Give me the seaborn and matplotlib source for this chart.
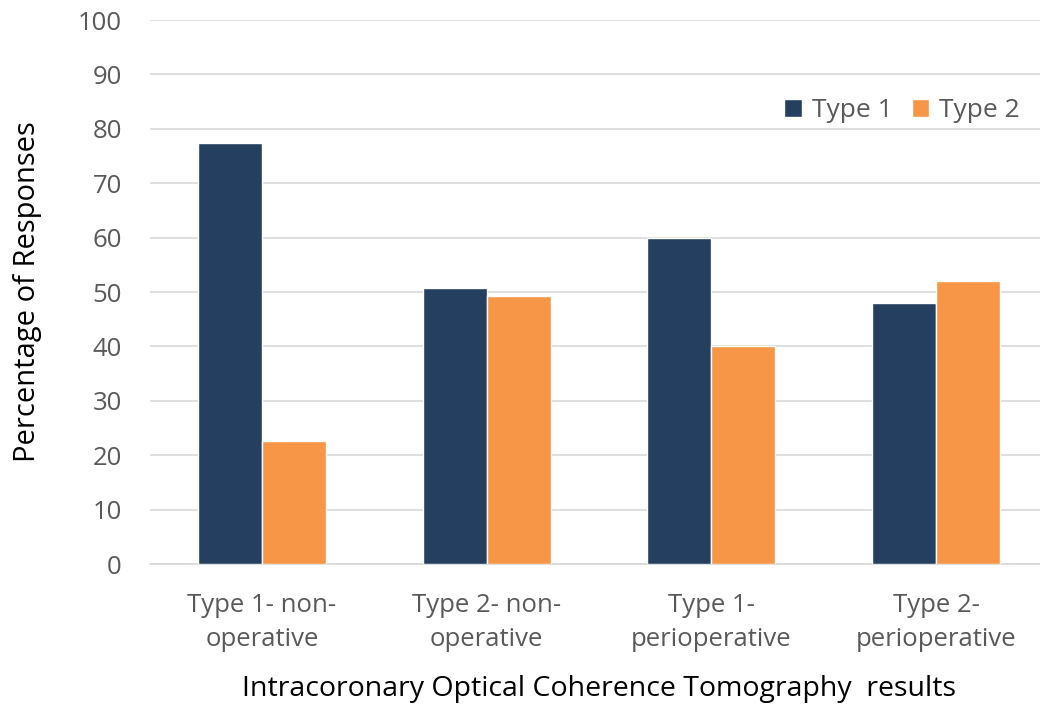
import matplotlib
matplotlib.use("Agg")
import matplotlib.pyplot as plt
import seaborn as sns
import pandas as pd

categories = ["Type 1- non-\noperative", "Type 2- non-\noperative",
              "Type 1-\nperioperative", "Type 2-\nperioperative"]
series_names = ["Type 1", "Type 2"]
type1_values = [77.3, 50.7, 60.0, 47.9]
type2_values = [22.7, 49.3, 40.0, 52.1]
y_ticks = [0, 10, 20, 30, 40, 50, 60, 70, 80, 90, 100]

df = pd.DataFrame({
    "category": categories * 2,
    "series": [series_names[0]] * 4 + [series_names[1]] * 4,
    "value": type1_values + type2_values,
})

sns.set_theme(style="white")
plt.rcParams['font.family'] = ['Open Sans', 'DejaVu Sans']

text_color = "#595959"
palette = {"Type 1": "#243F60", "Type 2": "#F79646"}

fig = plt.figure(figsize=(10.4, 7.05), dpi=100)
ax = fig.add_axes([149.7 / 1040, 1 - 564 / 705, 898.6 / 1040, 544 / 705])

sns.barplot(data=df, x="category", y="value", hue="series", palette=palette,
            width=0.57, saturation=1, ax=ax, errorbar=None, zorder=3)

ax.set_xlim(-0.5, 3.5)
ax.set_ylim(0, 100)
ax.set_yticks(y_ticks)
ax.yaxis.grid(True, color="#D9D9D9", linewidth=1.2, zorder=0)
ax.set_axisbelow(True)
for s in ["left", "right", "top"]:
    ax.spines[s].set_visible(False)
ax.spines["bottom"].set_color("#D9D9D9")
ax.spines["bottom"].set_linewidth(1.2)
ax.tick_params(axis="both", length=0, labelsize=18.5, colors=text_color)
ax.tick_params(axis="x", pad=21)
ax.tick_params(axis="y", pad=20)
for lbl in ax.get_xticklabels():
    lbl.set_linespacing(1.45)

ax.set_xlabel("Intracoronary Optical Coherence Tomography  results",
              fontsize=20.5, color="black", labelpad=17)
ax.set_ylabel("Percentage of Responses", fontsize=21, color="black", labelpad=26)

leg = ax.legend(loc="upper right", bbox_to_anchor=(0.995, 0.9), ncol=2, frameon=False,
                fontsize=19, handlelength=0.65, handleheight=0.65, columnspacing=0.75,
                handletextpad=0.38, labelcolor=text_color)

fig.savefig("out.png", dpi=100)
